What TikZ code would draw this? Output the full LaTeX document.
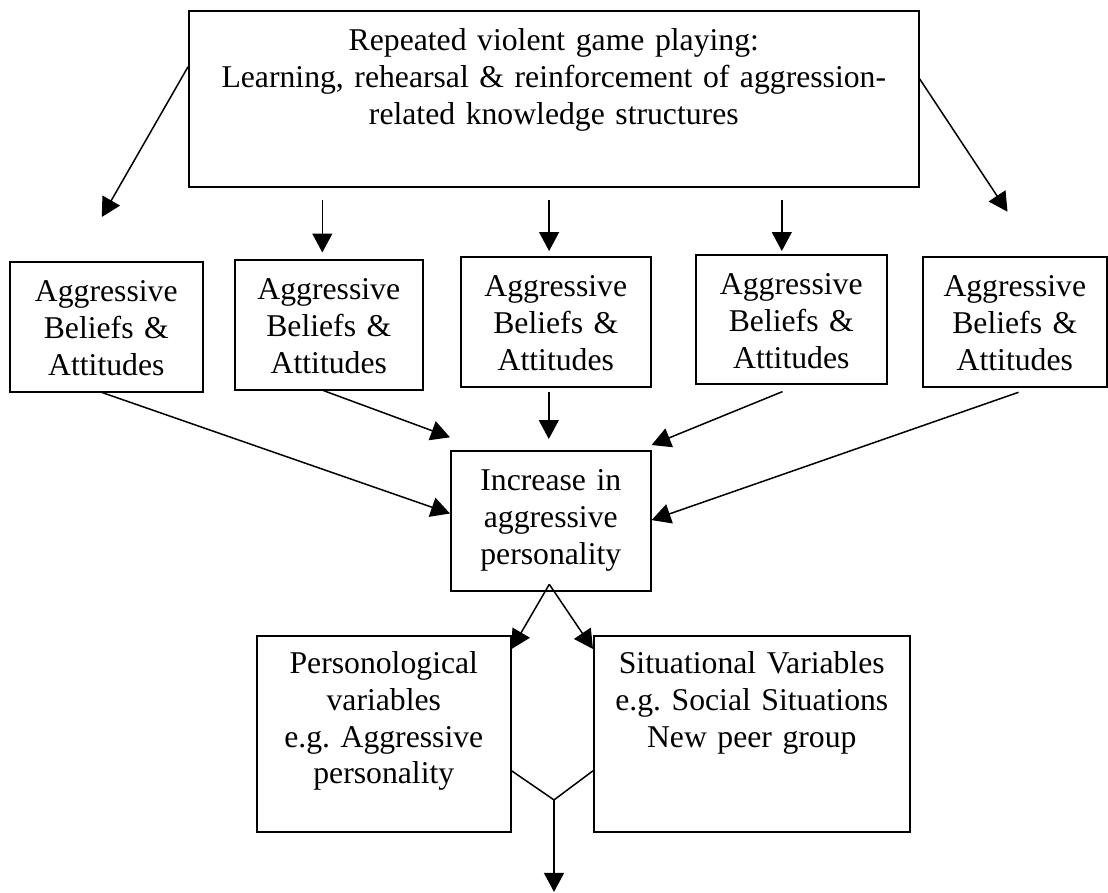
\documentclass[tikz,border=0pt]{standalone}
\usepackage{fontspec}
\setmainfont{Liberation Serif}
\usetikzlibrary{arrows.meta,calc}

\begin{document}
\begin{tikzpicture}[x=1pt,y=1pt,
   every node/.style={font=\fontsize{31.7pt}{36.7pt}\selectfont},
   box/.style={draw,line width=1.6pt,anchor=north west,inner sep=0pt,
      align=center,text height=40pt},
   arr/.style={line width=1.5pt,-{Triangle[length=19pt,width=20pt]}}]
\useasboundingbox (0,0) rectangle (1108,-892);
\node[box,text width=730pt,text depth=136pt] (game) at (188,-10)
   {Repeated violent game playing:\\Learning, rehearsal \& reinforcement of aggression-\\related knowledge structures};
\node[box,text width=193pt,text depth=90pt] (bel1) at (9,-261) {Aggressive\\Beliefs \&\\Attitudes};
\node[box,text width=188pt,text depth=90pt] (bel2) at (234,-259) {Aggressive\\Beliefs \&\\Attitudes};
\node[box,text width=190pt,text depth=90pt] (bel3) at (460,-256) {Aggressive\\Beliefs \&\\Attitudes};
\node[box,text width=191pt,text depth=89pt] (bel4) at (695,-254) {Aggressive\\Beliefs \&\\Attitudes};
\node[box,text width=184pt,text depth=90pt] (bel5) at (922,-256) {Aggressive\\Beliefs \&\\Attitudes};
\node[box,text width=200pt,text depth=100pt] (incr) at (450,-450) {Increase in\\aggressive\\personality};
\node[box,text width=254pt,text depth=158pt,text height=38pt] (pers) at (256,-635)
   {Personological\\variables\\e.g.\ Aggressive\\personality};
\node[box,text width=316pt,text depth=158pt,text height=38pt] (sit) at (593,-635)
   {Situational Variables\\e.g.\ Social Situations\\New peer group};

\draw[arr] ([yshift=32pt]game.west) -- ([xshift=-4.5pt,yshift=44pt]bel1.north);
\draw[arr] ($(game.south -| bel2.north)+(-6.5,-12)$) -- ([xshift=-6.5pt,yshift=6.5pt]bel2.north);
\draw[arr] ($(game.south -| bel3.north)+(-6.7,-12)$) -- ([xshift=-6.7pt,yshift=5pt]bel3.north);
\draw[arr] ($(game.south -| bel4.north)+(-9.5,-12)$) -- ([xshift=-9.5pt,yshift=3pt]bel4.north);
\draw[arr] ([yshift=20pt]game.east) -- ([xshift=-7.3pt,yshift=44.3pt]bel5.north);

\draw[arr] ([xshift=-4pt]bel1.south) -- ([yshift=7.3pt]incr.west);
\draw[arr] ([xshift=-5.3pt]bel2.south) -- ([yshift=12.7pt]incr.north west);
\draw[arr] ([xshift=-7pt,yshift=-4pt]bel3.south) -- ([xshift=-2pt,yshift=11pt]incr.north);
\draw[arr] ([xshift=-8.8pt,yshift=-7pt]bel4.south) -- ([yshift=5pt]incr.north east);
\draw[arr] ([xshift=3.7pt,yshift=-4.7pt]bel5.south) -- ([yshift=0.7pt]incr.east);

\coordinate (split) at ([xshift=-1.5pt,yshift=7.3pt]incr.south);
\draw[arr] (split) -- ([yshift=-14pt]pers.north east);
\draw[arr] (split) -- ([yshift=-14pt]sit.north west);

\coordinate (join) at ([xshift=42.4pt,yshift=32.7pt]pers.south east);
\coordinate (out) at ([yshift=-92pt]join);
\draw[line width=1.5pt] ([yshift=-37pt]pers.east) -- (join) -- ([yshift=-37pt]sit.west);
\draw[arr] (join) -- (out);
\end{tikzpicture}
\end{document}
